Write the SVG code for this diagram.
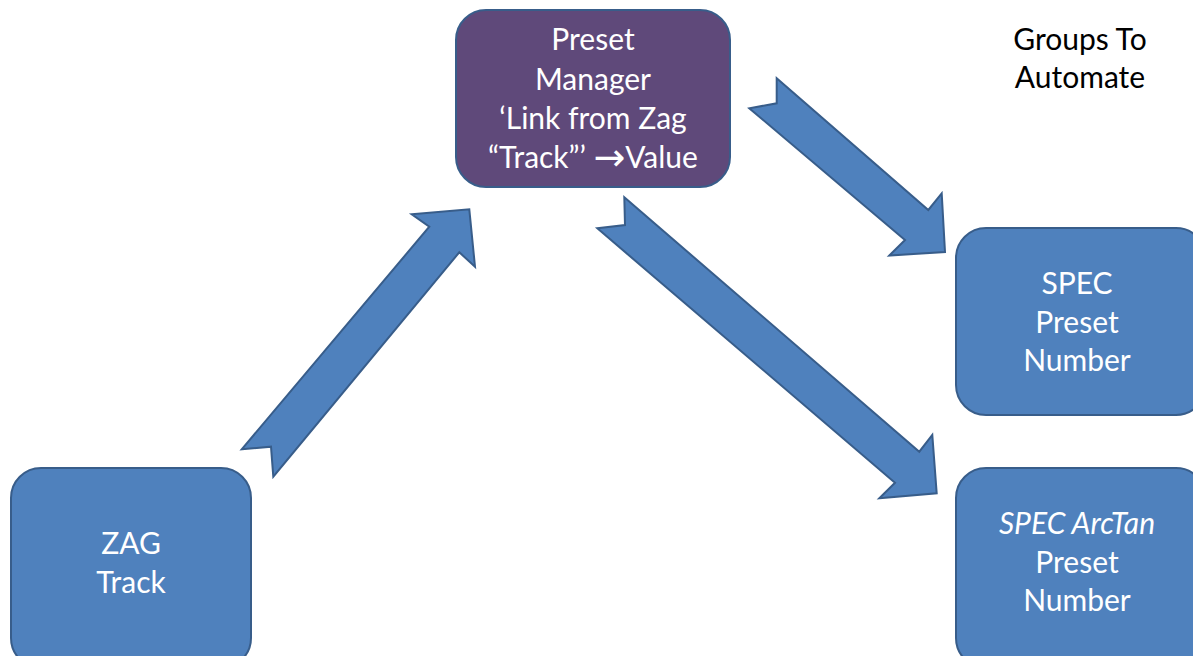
<svg xmlns="http://www.w3.org/2000/svg" width="1193" height="656" viewBox="0 0 1193 656">
  <style>
    .box { fill: #4F81BD; stroke: #385D8A; stroke-width: 2; }
    .mgr { fill: #5F497A; stroke: #385D8A; stroke-width: 2; }
    .arrow { fill: #4F81BD; stroke: #385D8A; stroke-width: 2; stroke-linejoin: miter; }
    .lbl { font-family: Lato, "Liberation Sans", sans-serif; font-size: 30px; fill: #FFFFFF; text-anchor: middle; }
    .note { font-family: Lato, "Liberation Sans", sans-serif; font-size: 30px; fill: #000000; text-anchor: middle; }
    .sym { font-family: "DejaVu Sans", sans-serif; font-size: 38px; }
  </style>
  <rect width="1193" height="656" fill="#FFFFFF"/>

  <!-- block arrows between the nodes -->
  <g id="connectors">
    <polygon class="arrow" points="241.7,449.3 429.3,226.7 411.7,214.3 469.3,209.3 475,266.7 459.3,252.3 273.3,476.7 271,446.7"/>
    <polygon class="arrow" points="776.7,78.3 928.3,210 941.7,193.3 945,252 889.3,255.5 905,240 749.3,108.3 776.7,103.3"/>
    <polygon class="arrow" points="624.3,197.3 919.3,451.7 932.3,435 936.7,493.3 879.3,498.3 895,482.7 597.3,228.3 625,225"/>
  </g>

  <g id="preset-manager">
    <rect class="mgr" x="456" y="10" width="274" height="177" rx="30" ry="30"/>
    <text class="lbl" x="593" y="50">Preset</text>
    <text class="lbl" x="593" y="90">Manager</text>
    <text class="lbl" x="593" y="129">‘Link from Zag</text>
    <text class="lbl" x="593" y="168">“Track”’ <tspan class="sym" dy="2">→</tspan><tspan dy="-2">Value</tspan></text>
  </g>

  <g id="groups-to-automate">
    <text class="note" x="1080" y="50">Groups To</text>
    <text class="note" x="1080" y="88">Automate</text>
  </g>

  <g id="zag-track">
    <rect class="box" x="11" y="468" width="240" height="200" rx="30" ry="30"/>
    <text class="lbl" x="131" y="554">ZAG</text>
    <text class="lbl" x="131" y="593">Track</text>
  </g>

  <g id="spec-preset">
    <rect class="box" x="956" y="228" width="250" height="187" rx="30" ry="30"/>
    <text class="lbl" x="1077" y="294">SPEC</text>
    <text class="lbl" x="1077" y="333">Preset</text>
    <text class="lbl" x="1077" y="371">Number</text>
  </g>

  <g id="spec-arctan-preset">
    <rect class="box" x="956" y="468" width="250" height="200" rx="30" ry="30"/>
    <text class="lbl" x="1077" y="534" font-style="italic">SPEC ArcTan</text>
    <text class="lbl" x="1077" y="573">Preset</text>
    <text class="lbl" x="1077" y="611">Number</text>
  </g>
</svg>
